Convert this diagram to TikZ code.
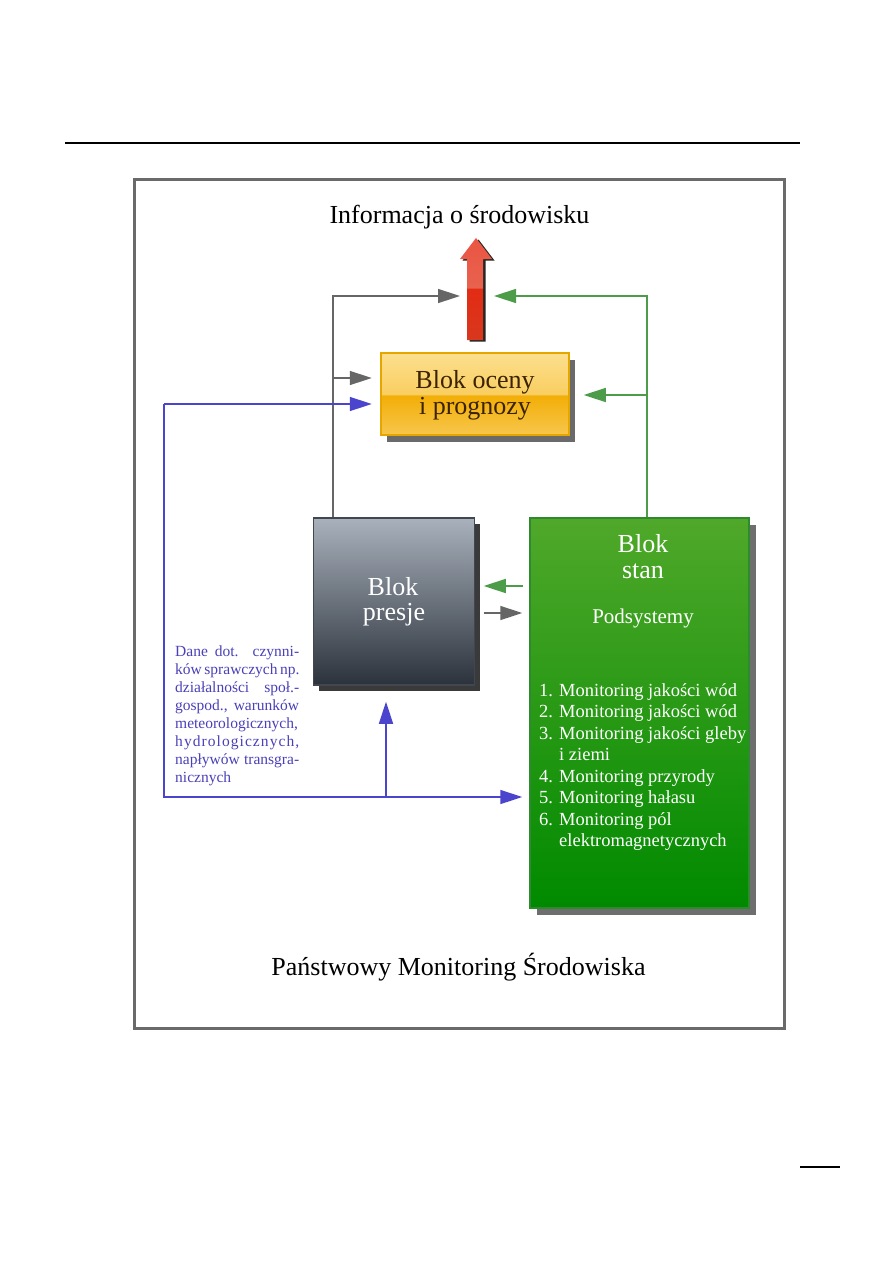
\documentclass[tikz,border=0pt]{standalone}
\usepackage{fontspec}
\setmainfont{Liberation Serif}
\usetikzlibrary{arrows.meta}
\definecolor{lgray}{HTML}{666666}
\definecolor{lgreen}{HTML}{4C9C4A}
\definecolor{lblue}{HTML}{4B44CC}
\definecolor{tblue}{HTML}{4A40B8}
\definecolor{frame}{HTML}{6A6A6A}
\definecolor{ocborder}{HTML}{E5A600}
\definecolor{octext}{HTML}{3B2300}
\definecolor{ocT}{HTML}{FCDF8E}
\definecolor{ocM1}{HTML}{F9CE60}
\definecolor{ocM2}{HTML}{F3AE06}
\definecolor{ocB}{HTML}{F7C64C}
\definecolor{prT}{HTML}{A9B1BC}
\definecolor{prB}{HTML}{2B323B}
\definecolor{prborder}{HTML}{41474F}
\definecolor{prshadow}{HTML}{3A3A3A}
\definecolor{stT}{HTML}{50A82A}
\definecolor{stB}{HTML}{008A00}
\definecolor{stborder}{HTML}{2F8A2F}
\definecolor{stshadow}{HTML}{6E6E6E}
\definecolor{ocshadow}{HTML}{6A6A6A}
\definecolor{rT}{HTML}{EA5542}
\definecolor{rM1}{HTML}{E8624E}
\definecolor{rM2}{HTML}{E22C14}
\definecolor{rB}{HTML}{D8381E}
\pgfdeclareverticalshading{ocenashade}{100bp}{color(0bp)=(ocB); color(25bp)=(ocB); color(49.3bp)=(ocM2); color(49.6bp)=(ocM1); color(75bp)=(ocT); color(100bp)=(ocT)}
\pgfdeclareverticalshading{redshade}{100bp}{color(0bp)=(rB); color(25bp)=(rB); color(50.3bp)=(rM2); color(50.6bp)=(rM1); color(75bp)=(rT); color(100bp)=(rT)}
\begin{document}
\begin{tikzpicture}[x=1pt,y=-1pt,
  tip/.style={-{Triangle[length=22pt,width=14pt]}},
  gl/.style={draw=lgray,line width=1.5pt,tip},
  gr/.style={draw=lgreen,line width=1.5pt,tip},
  bl/.style={draw=lblue,line width=1.5pt,tip},
  big/.style={inner sep=0,anchor=base,font=\fontsize{26}{30}\selectfont},
  btxt/.style={inner sep=0,anchor=base west,text=tblue,font=\fontsize{15.5}{18}\selectfont},
  ltxt/.style={inner sep=0,anchor=base west,text=white,font=\fontsize{18.5}{21}\selectfont},
  blockbox/.style={rectangle,inner sep=0,line width=1.5pt}]
\useasboundingbox (0,0) rectangle (893,1263);
\fill[white] (0,0) rectangle (893,1263);
% page rules and frame
\draw[line width=1.3pt] (65,143) -- (800,143);
\draw[line width=1.3pt] (800,1167) -- (840,1167);
\draw[draw=frame,line width=3pt] (134,179) rectangle (784,1028);
% titles
\node[big] (title) at (459.5,223) {Informacja o środowisku};
\node[big] (pms) at (458.5,975) {Państwowy Monitoring Środowiska};
% red arrow
\fill[black!85,shift={(2.5,1.5)}] (476,238) -- (492,259) -- (483,259) -- (483,340) -- (467,340) -- (467,259) -- (460,259) -- cycle;
\shade[shading=redshade] (476,238) -- (492,259) -- (483,259) -- (483,340) -- (467,340) -- (467,259) -- (460,259) -- cycle;
% blocks
\fill[ocshadow] (387,360) rectangle (575,442);
\node[blockbox,draw=ocborder,shade,shading=ocenashade,minimum width=188pt,minimum height=82pt] (ocena) at (475,394) {};
\fill[prshadow] (319,524) rectangle (480,691);
\node[blockbox,draw=prborder,top color=prT,bottom color=prB,minimum width=161pt,minimum height=167pt] (presje) at (394,601.5) {};
\fill[stshadow] (537,525) rectangle (756,915);
\node[blockbox,draw=stborder,top color=stT,bottom color=stB,minimum width=219pt,minimum height=390pt] (stan) at (639.5,713) {};
% block texts
\node[big,text=octext] (oc1) at (475,388) {Blok oceny};
\node[big,text=octext] (oc2) at (475,414) {i prognozy};
\node[big,text=white] (pr1) at (393,595) {Blok};
\node[big,text=white] (pr2) at (394,620) {presje};
\node[big,text=white] (st1) at (643,552) {Blok};
\node[big,text=white] (st2) at (643,578) {stan};
\node[inner sep=0,anchor=base,text=white,font=\fontsize{21}{24}\selectfont] (pods) at (643,623) {Podsystemy};
\node[ltxt] (l1) at (539,696) {1. Monitoring jakości wód};
\node[ltxt] (l2) at (539,717.5) {2. Monitoring jakości wód};
\node[ltxt] (l3) at (539,739) {3. Monitoring jakości gleby};
\node[ltxt] (l4) at (539,760.5) {\phantom{3. }i ziemi};
\node[ltxt] (l5) at (539,782) {4. Monitoring przyrody};
\node[ltxt] (l6) at (539,803.5) {5. Monitoring hałasu};
\node[ltxt] (l7) at (539,825) {6. Monitoring pól};
\node[ltxt] (l8) at (539,846.5) {\phantom{6. }elektromagnetycznych};
% blue text
\node[btxt] (d1) at (175,656) {\makebox[124pt][s]{Dane dot. czynni-}};
\node[btxt] (d2) at (175,674) {\makebox[124pt][s]{ków sprawczych np.}};
\node[btxt] (d3) at (175,692) {\makebox[124pt][s]{działalności\hfil społ.-}};
\node[btxt] (d4) at (175,710) {\makebox[124pt][s]{gospod., warunków}};
\node[btxt] (d5) at (175,728) {\makebox[124pt][s]{meteorologicznych,}};
\node[btxt] (d6) at (175,746) {\makebox[124pt][s]{h\hfil y\hfil d\hfil r\hfil o\hfil l\hfil o\hfil g\hfil i\hfil c\hfil z\hfil n\hfil y\hfil c\hfil h\hfil ,}};
\node[btxt] (d7) at (175,764) {\makebox[124pt][s]{napływów transgra-}};
\node[btxt] (d8) at (175,782) {nicznych};
% connector coordinates
\coordinate (gtipA) at (460,296);
\coordinate (gtipB) at (494,296);
\coordinate (gj) at (334,378);
\coordinate (bl1) at (164,404);
\coordinate (bj) at (386,797);
\coordinate (gj2) at (647,395);
\coordinate (ga) at ([shift={(-6pt,127pt)}]stan.west);
\coordinate (pa) at ([shift={(8.5pt,-11.5pt)}]presje.east);
% gray connectors
\draw[gl] ([xshift=20pt]presje.north west) |- (gtipA);
\draw[gl,shorten >=8.5pt] (gj) -- (gj -| ocena.west);
\draw[gl,shorten >=7pt] (pa) -- (pa -| stan.west);
% green connectors
\draw[gr] ([xshift=7.5pt]stan.north) |- (gtipB);
\draw[gr,shorten >=14pt] (gj2) -- (gj2 -| ocena.east);
\draw[gr,shorten >=8.5pt] (ga) -- (ga -| presje.east);
% blue connectors
\draw[bl,shorten >=8.5pt] (bl1) -- (bl1 -| ocena.west);
\draw[bl,shorten >=7pt] (bl1) |- (bj -| stan.west);
\draw[bl,shorten >=16pt] (bj) -- (bj |- presje.south);
\end{tikzpicture}
\end{document}
